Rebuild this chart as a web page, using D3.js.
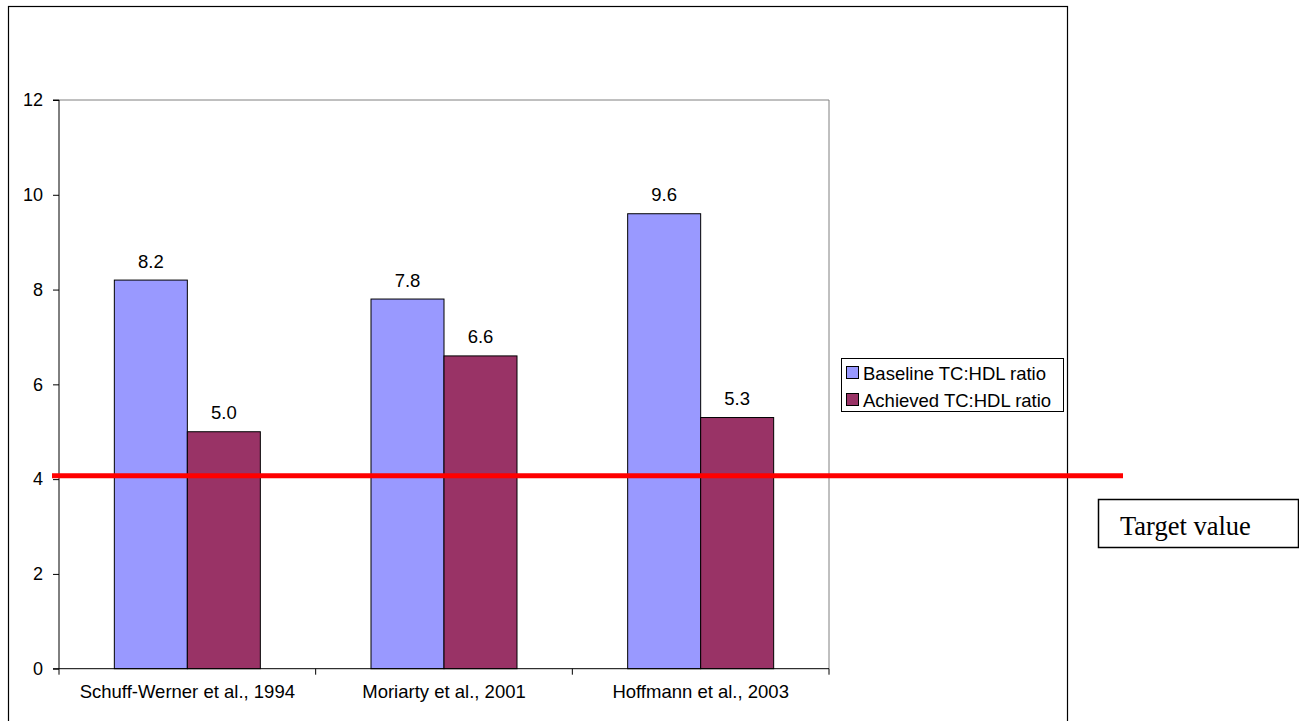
<!DOCTYPE html>
<html><head><meta charset="utf-8">
<script src="https://cdn.jsdelivr.net/npm/d3@7"></script>
<style>body{margin:0;background:#fff}svg{display:block}</style>
</head><body><div id="c"></div>
<script>
const categories = ["Schuff-Werner et al., 1994", "Moriarty et al., 2001", "Hoffmann et al., 2003"];
const seriesNames = ["Baseline TC:HDL ratio", "Achieved TC:HDL ratio"];
const baseline = [8.2, 7.8, 9.6];
const achieved = [5.0, 6.6, 5.3];
const yTicks = [0, 2, 4, 6, 8, 10, 12];
const targetValue = 4.07;
const targetLabel = "Target value";
const colors = ["#9999FF", "#993366"];

const W = 1299, H = 721;
const svg = d3.select("#c").append("svg").attr("width", W).attr("height", H);
const font = "Liberation Sans, Arial, sans-serif";

// outer frame
svg.append("rect").attr("x", 8.5).attr("y", 6.5).attr("width", 1059).attr("height", 730)
  .attr("fill", "none").attr("stroke", "#000").attr("stroke-width", 1.2);

const L = 59, R = 829, T = 100, B = 668.7;
const x = d3.scaleBand().domain(categories).range([L, R]).paddingInner(0).paddingOuter(0);
const y = d3.scaleLinear().domain([0, 12]).range([B, T]);
const xs = d3.scaleBand().domain(seriesNames).range([0, x.bandwidth()]).paddingInner(0).paddingOuter(0.758);

// plot area border (top/right gray)
svg.append("path").attr("d", `M${L},${T}H${R}V${B}`).attr("fill", "none").attr("stroke", "#808080").attr("stroke-width", 1);

const data = categories.map((c, i) => ({c, v: [baseline[i], achieved[i]]}));
const g = svg.append("g");
data.forEach(d => {
  d.v.forEach((v, j) => {
    const bx = x(d.c) + xs(seriesNames[j]);
    g.append("rect").attr("x", bx).attr("y", y(v)).attr("width", xs.bandwidth()).attr("height", B - y(v))
      .attr("fill", colors[j]).attr("stroke", "#000").attr("stroke-width", 1);
    g.append("text").attr("x", bx + xs.bandwidth() / 2).attr("y", y(v) - 12.5)
      .attr("text-anchor", "middle").attr("font-family", font).attr("font-size", 18.5).text(v.toFixed(1));
  });
});

// axes
const ya = svg.append("g").attr("transform", `translate(${L},0)`)
  .call(d3.axisLeft(y).tickValues(yTicks).tickSize(6).tickPadding(10).tickFormat(d3.format("d")));
ya.select(".domain").attr("stroke", "#000").attr("d", `M-6,${B}H0V${T}H-6`);
ya.selectAll("text").attr("font-family", font).attr("font-size", 18).attr("fill", "#000");
ya.selectAll("line").attr("stroke", "#000");

const xa = svg.append("g").attr("transform", `translate(0,${B})`)
  .call(d3.axisBottom(x).tickSize(0).tickPadding(16));
xa.select(".domain").attr("stroke", "#000").attr("d", `M${L},0H${R}`);
xa.selectAll("text").attr("font-family", font).attr("font-size", 18.5).attr("fill", "#000");
[L, L + x.bandwidth(), L + 2 * x.bandwidth(), R].forEach(t => {
  xa.append("line").attr("x1", t).attr("x2", t).attr("y1", 0).attr("y2", 6).attr("stroke", "#000");
});

// target line
svg.append("line").attr("x1", 52).attr("x2", 1123).attr("y1", y(targetValue)).attr("y2", y(targetValue))
  .attr("stroke", "#FF0000").attr("stroke-width", 5);

// legend
const lg = svg.append("g");
lg.append("rect").attr("x", 841.5).attr("y", 358.5).attr("width", 222).attr("height", 53)
  .attr("fill", "#fff").attr("stroke", "#000").attr("stroke-width", 1);
seriesNames.forEach((s, i) => {
  const yy = 373 + i * 27;
  lg.append("rect").attr("x", 846.5).attr("y", yy - 6.5).attr("width", 12).attr("height", 12)
    .attr("fill", colors[i]).attr("stroke", "#000");
  lg.append("text").attr("x", 863).attr("y", yy + 6.5).attr("font-family", font).attr("font-size", 18.5).text(s);
});

// target label box
svg.append("rect").attr("x", 1098.5).attr("y", 499.5).attr("width", 200).attr("height", 48)
  .attr("fill", "#fff").attr("stroke", "#000").attr("stroke-width", 1.5);
svg.append("text").attr("x", 1120).attr("y", 535).attr("font-family", "Liberation Serif, Times New Roman, serif")
  .attr("font-size", 26.5).text(targetLabel);
</script></body></html>
